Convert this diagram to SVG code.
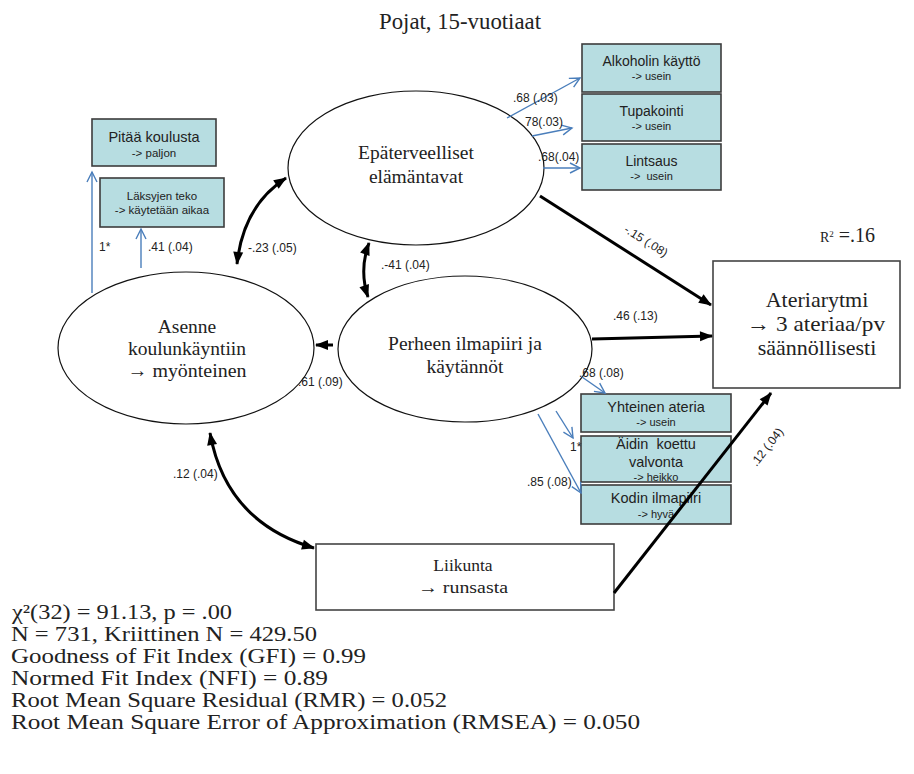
<svg xmlns="http://www.w3.org/2000/svg" width="914" height="774" viewBox="0 0 914 774">
  <style>
    .serif { font-family: "Liberation Serif", "DejaVu Serif", serif; fill: #222; }
    .sans { font-family: "Liberation Sans", Arial, sans-serif; fill: #222; }
    .ind { fill: #b7dde1; stroke: #3c3c3c; stroke-width: 1.6; }
    .lat { fill: #fff; stroke: #111; stroke-width: 1.2; }
    .obs { fill: #fff; stroke: #444; stroke-width: 1.6; }
    .blue { fill: none; stroke: #4a7ebb; stroke-width: 1.4; marker-end: url(#openBlue); }
    .path { fill: none; stroke: #000; stroke-width: 3; marker-end: url(#solid); }
    .cov { fill: none; stroke: #000; stroke-width: 3; marker-start: url(#solid); marker-end: url(#solid); }
    .lbl { font-size: 12px; }
    .box1 { font-size: 14px; }
    .box1b { font-size: 14.5px; }
    .box2 { font-size: 11px; }
    .node { font-size: 19.5px; }
    .stat { font-size: 21px; }
  </style>
  <defs>
    <marker id="openBlue" markerUnits="userSpaceOnUse" markerWidth="12" markerHeight="12" refX="10" refY="5" orient="auto" overflow="visible">
      <path d="M0,0 L10,5 L0,10" fill="none" stroke="#4a7ebb" stroke-width="1.4"/>
    </marker>
    <marker id="solid" markerUnits="userSpaceOnUse" markerWidth="13" markerHeight="11" refX="12" refY="5" orient="auto-start-reverse" overflow="visible">
      <path d="M0,0 L13,5 L0,10 z" fill="#000"/>
    </marker>
  </defs>

  <rect width="914" height="774" fill="#fff"/>

  <!-- heading -->
  <text class="serif" x="460" y="29" font-size="24" text-anchor="middle" textLength="162" lengthAdjust="spacingAndGlyphs">Pojat, 15-vuotiaat</text>

  <!-- latent variables -->
  <g id="epaterveelliset">
    <ellipse class="lat" cx="416" cy="168" rx="128" ry="77"/>
    <text class="serif node" x="416" y="159" text-anchor="middle">Epäterveelliset</text>
    <text class="serif node" x="416" y="183" text-anchor="middle">elämäntavat</text>
  </g>
  <g id="asenne">
    <ellipse class="lat" cx="186" cy="348" rx="128" ry="76"/>
    <text class="serif node" x="187" y="333" text-anchor="middle">Asenne</text>
    <text class="serif node" x="187" y="355" text-anchor="middle">koulunkäyntiin</text>
    <text class="serif node" x="187" y="377" text-anchor="middle" textLength="119" lengthAdjust="spacingAndGlyphs">→ myönteinen</text>
  </g>
  <g id="perheen">
    <ellipse class="lat" cx="465" cy="349" rx="127" ry="73"/>
    <text class="serif node" x="465" y="350" text-anchor="middle">Perheen ilmapiiri ja</text>
    <text class="serif node" x="465" y="373" text-anchor="middle">käytännöt</text>
  </g>

  <!-- observed outcomes -->
  <g id="ateriarytmi">
    <rect class="obs" x="713" y="261" width="187" height="127"/>
    <text class="serif" x="817" y="307" font-size="22" text-anchor="middle">Ateriarytmi</text>
    <text class="serif" x="816" y="331" font-size="22" text-anchor="middle" textLength="138" lengthAdjust="spacingAndGlyphs">→ 3 ateriaa/pv</text>
    <text class="serif" x="817" y="355" font-size="22" text-anchor="middle">säännöllisesti</text>
  </g>
  <g id="liikunta">
    <rect class="obs" x="316" y="544" width="298" height="66"/>
    <text class="serif" x="463" y="571" font-size="17.5" text-anchor="middle">Liikunta</text>
    <text class="serif" x="463" y="593" font-size="17.5" text-anchor="middle" textLength="90" lengthAdjust="spacingAndGlyphs">→ runsasta</text>
  </g>

  <!-- indicators -->
  <g id="alkoholi">
    <rect class="ind" x="582" y="44" width="139" height="48"/>
    <text class="sans box1" x="651.5" y="66" text-anchor="middle">Alkoholin käyttö</text>
    <text class="sans box2" x="651.5" y="80" text-anchor="middle">-&gt; usein</text>
  </g>
  <g id="tupakointi">
    <rect class="ind" x="582" y="94" width="139" height="47"/>
    <text class="sans box1" x="651.5" y="116" text-anchor="middle">Tupakointi</text>
    <text class="sans box2" x="651.5" y="130" text-anchor="middle">-&gt; usein</text>
  </g>
  <g id="lintsaus">
    <rect class="ind" x="582" y="144" width="139" height="46"/>
    <text class="sans box1" x="651.5" y="166" text-anchor="middle">Lintsaus</text>
    <text class="sans box2" x="651.5" y="180" text-anchor="middle" xml:space="preserve">-&gt;  usein</text>
  </g>
  <g id="pitaa">
    <rect class="ind" x="92" y="119" width="124" height="47"/>
    <text class="sans" x="154" y="142" font-size="14.5" text-anchor="middle">Pitää koulusta</text>
    <text class="sans" x="154" y="157" font-size="11.5" text-anchor="middle">-&gt; paljon</text>
  </g>
  <g id="laksyt">
    <rect class="ind" x="100" y="178" width="124" height="49"/>
    <text class="sans" x="162" y="200" font-size="11.5" text-anchor="middle">Läksyjen teko</text>
    <text class="sans" x="162" y="214" font-size="11.5" text-anchor="middle">-&gt; käytetään aikaa</text>
  </g>
  <g id="yhteinen">
    <rect class="ind" x="581" y="394" width="150" height="38"/>
    <text class="sans box1b" x="656" y="412" text-anchor="middle">Yhteinen ateria</text>
    <text class="sans box2" x="656" y="426" text-anchor="middle">-&gt; usein</text>
  </g>
  <g id="valvonta">
    <rect class="ind" x="581" y="436" width="150" height="46"/>
    <text class="sans box1b" x="656" y="449" text-anchor="middle" xml:space="preserve">Äidin  koettu</text>
    <text class="sans box1b" x="656" y="467" text-anchor="middle">valvonta</text>
    <text class="sans box2" x="656" y="481" text-anchor="middle">-&gt; heikko</text>
  </g>
  <g id="kodin">
    <rect class="ind" x="581" y="485" width="150" height="39"/>
    <text class="sans box1b" x="656" y="503" text-anchor="middle">Kodin ilmapiiri</text>
    <text class="sans box2" x="656" y="518" text-anchor="middle">-&gt; hyvä</text>
  </g>

  <!-- connectors -->
  <g id="connectors">
    <line class="blue" x1="507" y1="118" x2="580" y2="78"/>
    <line class="blue" x1="532" y1="136" x2="572" y2="128"/>
    <line class="blue" x1="543" y1="168" x2="580" y2="168"/>
    <line class="blue" x1="92" y1="293" x2="92" y2="172"/>
    <line class="blue" x1="141" y1="268" x2="141" y2="229"/>
    <line class="blue" x1="582" y1="377" x2="605" y2="393"/>
    <line class="blue" x1="556" y1="411" x2="573" y2="438"/>
    <line class="blue" x1="538" y1="414" x2="581" y2="493"/>

    <line class="path" x1="333" y1="345" x2="316" y2="345"/>
    <line class="path" x1="540" y1="196" x2="711" y2="305"/>
    <line class="path" x1="592" y1="339" x2="712" y2="336"/>
    <line class="path" x1="614" y1="593" x2="771" y2="393"/>

    <path class="cov" d="M237,264 Q243,206 286,178"/>
    <path class="cov" d="M369,243 Q359,270 368,297"/>
    <path class="cov" d="M210,433 Q226,522 314,548"/>

    <text class="sans lbl" x="513" y="102">.68 (.03)</text>
    <text class="sans lbl" x="525" y="126">78(.03)</text>
    <text class="sans lbl" x="538" y="161">.68(.04)</text>
    <text class="sans lbl" x="99" y="251">1*</text>
    <text class="sans lbl" x="148" y="251">.41 (.04)</text>
    <text class="sans lbl" x="579" y="377">.68 (.08)</text>
    <text class="sans lbl" x="570" y="451">1*</text>
    <text class="sans lbl" x="527" y="486">.85 (.08)</text>
    <text class="sans lbl" x="298" y="386">.61 (.09)</text>
    <text class="sans lbl" x="248" y="252">-.23 (.05)</text>
    <text class="sans lbl" x="381" y="269">.-41 (.04)</text>
    <text class="sans lbl" x="173" y="478">.12 (.04)</text>
    <text class="sans lbl" x="613" y="320">.46 (.13)</text>
    <text class="sans lbl" x="646" y="245" text-anchor="middle" transform="rotate(32 646 241)">-.15 (.08)</text>
    <text class="sans lbl" x="767" y="451" text-anchor="middle" transform="rotate(-52 767 447)">.12 (.04)</text>
  </g>

  <!-- explained variance -->
  <text class="serif" x="820" y="242"><tspan font-size="14">R</tspan><tspan font-size="9" dy="-5">2</tspan><tspan font-size="20" dy="5"> =.16</tspan></text>

  <!-- fit statistics -->
  <g class="serif stat">
    <text x="12" y="619" textLength="220" lengthAdjust="spacingAndGlyphs">χ²(32) = 91.13, p = .00</text>
    <text x="11" y="641" textLength="306" lengthAdjust="spacingAndGlyphs">N = 731, Kriittinen N = 429.50</text>
    <text x="11" y="663" textLength="355" lengthAdjust="spacingAndGlyphs">Goodness of Fit Index (GFI) = 0.99</text>
    <text x="11" y="685" textLength="317" lengthAdjust="spacingAndGlyphs">Normed Fit Index (NFI) = 0.89</text>
    <text x="11" y="707" textLength="436" lengthAdjust="spacingAndGlyphs">Root Mean Square Residual (RMR) = 0.052</text>
    <text x="11" y="729" textLength="629" lengthAdjust="spacingAndGlyphs">Root Mean Square Error of Approximation (RMSEA) = 0.050</text>
  </g>
</svg>
